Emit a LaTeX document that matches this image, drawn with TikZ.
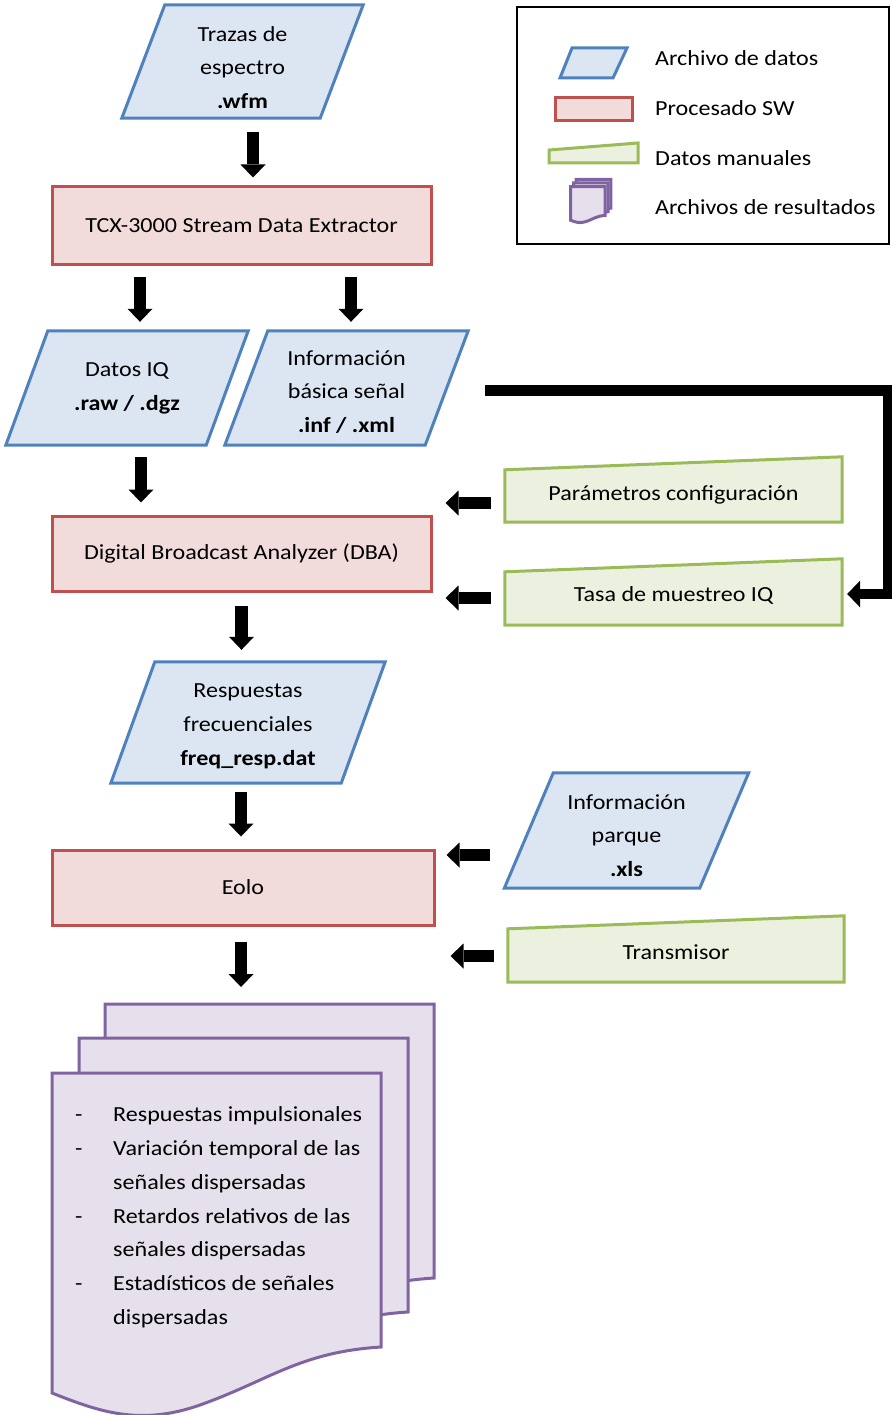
\documentclass[tikz,border=0pt]{standalone}
\usepackage{fontspec}
\setmainfont{Carlito}[FakeStretch=1.12]
\usetikzlibrary{arrows.meta,backgrounds,calc}

\definecolor{azulborde}{HTML}{4F81BD}
\definecolor{azulfondo}{HTML}{DCE6F2}
\definecolor{rojoborde}{HTML}{C0504D}
\definecolor{rojofondo}{HTML}{F2DCDB}
\definecolor{verdeborde}{HTML}{9BBB59}
\definecolor{verdefondo}{HTML}{EBF1DE}
\definecolor{moradoborde}{HTML}{8064A2}
\definecolor{moradofondo}{HTML}{E5E0EC}

\tikzset{
	datofile/.style={draw=azulborde, fill=azulfondo, line width=3pt},
	datotext/.style={inner sep=0pt, align=center},
	proceso/.style={draw=rojoborde, fill=rojofondo, line width=3pt, inner sep=0pt},
	manualfile/.style={draw=verdeborde, fill=verdefondo, line width=3pt},
	resultfile/.style={draw=moradoborde, fill=moradofondo, line width=3pt},
	flecha/.style={line width=12.5pt, -{Triangle[width=25pt,length=13pt,line width=0pt]}},
	enlace/.style={line width=10.5pt, line join=miter, -{Triangle[width=27pt,length=13pt,line width=0pt]}}
}

\def\archivo(#1)(#2)(#3){\draw[datofile] ([xshift=#2pt,yshift=#3pt]#1.north west) -- ([yshift=#3pt]#1.north east) -- ([xshift=-#2pt,yshift=#3pt]#1.south east) -- ([yshift=#3pt]#1.south west) -- cycle;}
\def\manual(#1)(#2)(#3){\draw[manualfile] ([yshift=#3pt]#1.south west) -- ([yshift=#3pt]#1.south east) -- ([yshift=#3pt]#1.north east) -- ([yshift=#3pt-#2pt]#1.north west) -- cycle;}
\def\hoja(#1,#2){\draw[resultfile, shift={(#1,#2)}] (52,1073) -- (381,1073) -- (381,1347) .. controls (300,1352) and (270,1380) .. (200,1405) .. controls (140,1426) and (100,1412) .. (52,1393) -- cycle;}

\begin{document}
\begin{tikzpicture}[x=1pt, y=-1pt, font=\fontsize{21.5}{33.8}\selectfont]
	%%%%% START %%%%%
	\useasboundingbox (0,0) rectangle (891,1415);
	
	\node[datotext, minimum width=241pt, minimum height=113pt] (trazas) at (242.5,67.5) {Trazas de\\espectro\\\textbf{.wfm}};
	\node[proceso, minimum width=379pt, minimum height=77pt] (tcx) at (241.5,225.5) {TCX-3000 Stream Data Extractor};
	\node[datotext, minimum width=242pt, minimum height=114pt] (datosiq) at (127,388) {Datos IQ\\\textbf{.raw / .dgz}};
	\node[datotext, minimum width=243pt, minimum height=114pt] (infobasica) at (346.5,392) {Información\\básica señal\\\textbf{.inf / .xml}};
	\node[proceso, minimum width=379pt, minimum height=75pt] (dba) at (241.5,553.5) {Digital Broadcast Analyzer (DBA)};
	\node[datotext, minimum width=337pt, minimum height=65pt] (param) at (673.5,494.5) {Parámetros configuración};
	\node[datotext, minimum width=337pt, minimum height=66pt] (tasa) at (673.5,595) {Tasa de muestreo IQ};
	\node[datotext, minimum width=274pt, minimum height=121pt] (respuestas) at (248,726.5) {Respuestas\\frecuenciales\\\textbf{freq\_resp.dat}};
	\node[datotext, minimum width=244pt, minimum height=115pt] (infoparque) at (626.5,835.5) {Información\\parque\\\textbf{.xls}};
	\node[proceso, minimum width=382pt, minimum height=75pt] (eolo) at (243,887.5) {Eolo};
	\node[datotext, minimum width=336pt, minimum height=66pt] (transmisor) at (676,952) {Transmisor};
	\node[anchor=north west, inner sep=0pt, align=left] (resultados) at (75,1106.5) {\makebox[38pt][l]{-}Respuestas impulsionales\\
		\makebox[38pt][l]{-}Variación temporal de las\\
		\hspace*{38pt}señales dispersadas\\
		\makebox[38pt][l]{-}Retardos relativos de las\\
		\hspace*{38pt}señales dispersadas\\
		\makebox[38pt][l]{-}Estadísticos de señales\\
		\hspace*{38pt}dispersadas};
	\coordinate (pila) at (241,1004);
	\coordinate (esquina) at (888.5,390.5);
	
	\begin{scope}[on background layer]
		\archivo(trazas)(43)(6)
		\archivo(datosiq)(42)(0)
		\archivo(infobasica)(43)(4)
		\archivo(respuestas)(44)(4)
		\archivo(infoparque)(49)(5)
		\manual(param)(13)(5)
		\manual(tasa)(13)(3)
		\manual(transmisor)(13)(3)
		\hoja(53,-69)
		\hoja(27,-35)
		\hoja(0,0)
	\end{scope}
	
	\draw[flecha, shorten <=8pt, shorten >=8pt] ([xshift=10.5pt]trazas.south) -- ([xshift=11.5pt]tcx.north);
	\draw[flecha, shorten <=11pt, shorten >=9pt] ([xshift=-101.5pt]tcx.south) -- ([xshift=13pt]datosiq.north);
	\draw[flecha, shorten <=11pt, shorten >=13pt] ([xshift=109.5pt]tcx.south) -- ([xshift=4.5pt]infobasica.north);
	\draw[flecha, shorten <=12pt, shorten >=12pt] ([xshift=14pt]datosiq.south) -- ([xshift=-100.5pt]dba.north);
	\draw[flecha, shorten <=13pt, shorten >=16pt] (dba.south) -- ([xshift=-6.5pt]respuestas.north);
	\draw[flecha, shorten <=5pt, shorten >=12pt] ([xshift=-7pt]respuestas.south) -- ([xshift=-2pt]eolo.north);
	\draw[flecha, shorten <=15pt, shorten >=17pt] ([xshift=-2pt]eolo.south) -- (pila);
	
	\draw[flecha, shorten <=14pt, shorten >=13pt] ($(param.west)+(0,8.5)$) -- ($(param.west -| dba.east)+(0,8.5)$);
	\draw[flecha, shorten <=14pt, shorten >=13pt] ($(tasa.west)+(0,3)$) -- ($(tasa.west -| dba.east)+(0,3)$);
	\draw[flecha, shorten <=14pt, shorten >=11pt] ($(infoparque.west)+(0,19.5)$) -- ($(infoparque.west -| eolo.east)+(0,19.5)$);
	\draw[flecha, shorten <=14pt, shorten >=15pt] ($(transmisor.west)+(0,4)$) -- ($(transmisor.west -| eolo.east)+(0,4)$);
	
	\draw[enlace, shorten <=17pt, shorten >=5pt] ($(infobasica.east)+(0,-1.5)$) -- (esquina) |- ($(tasa.east)+(0,-1)$);
	
	%%%%% LEYENDA %%%%%
	\draw[line width=2pt] (517,7) rectangle (889,244);
	\draw[datofile] (572,48) -- (627,48) -- (613,78) -- (560,78) -- cycle;
	\draw[proceso] (555,98) rectangle (632,121);
	\draw[manualfile] (549,150) -- (638,143) -- (638,163) -- (549,163) -- cycle;
	\begin{scope}[shift={(565.2,74)}, scale=0.105]
		\hoja(53,-69)
		\hoja(27,-35)
		\hoja(0,0)
	\end{scope}
	\node[anchor=west, inner sep=0pt] (leyarchivo) at (655,58) {Archivo de datos};
	\node[anchor=west, inner sep=0pt] (leyproceso) at (655,108) {Procesado SW};
	\node[anchor=west, inner sep=0pt] (leymanual) at (655,158) {Datos manuales};
	\node[anchor=west, inner sep=0pt] (leyresultado) at (655,207) {Archivos de resultados};
	
	%%%%% END %%%%%
\end{tikzpicture}
\end{document}
